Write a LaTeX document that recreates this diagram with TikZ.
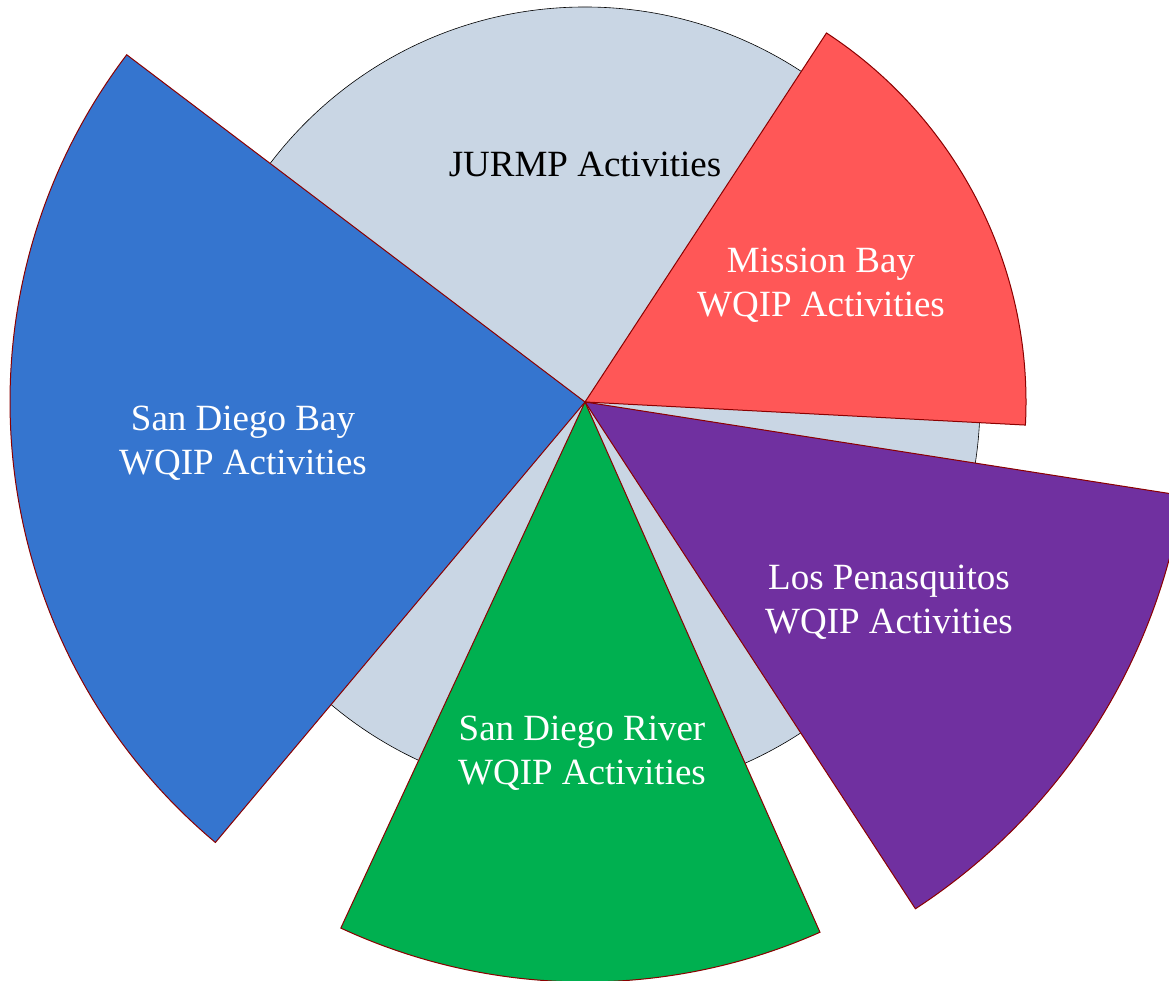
\documentclass[tikz,border=0pt]{standalone}
\usepackage{fontspec}
\setmainfont{Liberation Serif}
\definecolor{bgdisc}{HTML}{C9D6E4}
\definecolor{mbred}{HTML}{FF5757}
\definecolor{lppurple}{HTML}{7030A0}
\definecolor{sdrgreen}{HTML}{00B050}
\definecolor{sdbblue}{HTML}{3575CF}
\definecolor{rimred}{HTML}{8B0000}
\begin{document}
\begin{tikzpicture}[x=1pt,y=1pt,
  wedge/.style={draw=rimred, line width=1pt, line join=miter},
  lbl/.style={align=center, font=\fontsize{37}{44}\selectfont, text=white},
]
\useasboundingbox (0,0) rectangle (1169,981);
\begin{scope}
\clip (0,0) rectangle (1169,981);
\coordinate (c) at (585,579);
% shared JURMP disc behind the watershed wedges
\fill[bgdisc, draw=black, line width=0.6pt] (c) circle[radius=395];
% watershed wedges
\path[wedge, fill=mbred] (c) -- ++(56.8:441) arc[start angle=56.8, end angle=-3.0, radius=441] -- cycle;
\path[wedge, fill=lppurple] (c) -- ++(-8.9:605) arc[start angle=-8.9, end angle=-56.9, radius=605] -- cycle;
\path[wedge, fill=sdrgreen] (c) -- ++(-66.1:580) arc[start angle=-66.1, end angle=-114.9, radius=580] -- cycle;
\path[wedge, fill=sdbblue] (c) -- ++(142.85:575) arc[start angle=142.85, end angle=230, radius=575] -- cycle;
\end{scope}
% labels
\node[lbl, text=black] (jurmp) at (585,817) {JURMP Activities};
\node[lbl] (mb) at (821,696) {Mission Bay\\WQIP Activities};
\node[lbl] (sdb) at (243,538) {San Diego Bay\\WQIP Activities};
\node[lbl] (lp) at (889,379) {Los Penasquitos\\WQIP Activities};
\node[lbl] (sdr) at (582,228) {San Diego River\\WQIP Activities};
\end{tikzpicture}
\end{document}
